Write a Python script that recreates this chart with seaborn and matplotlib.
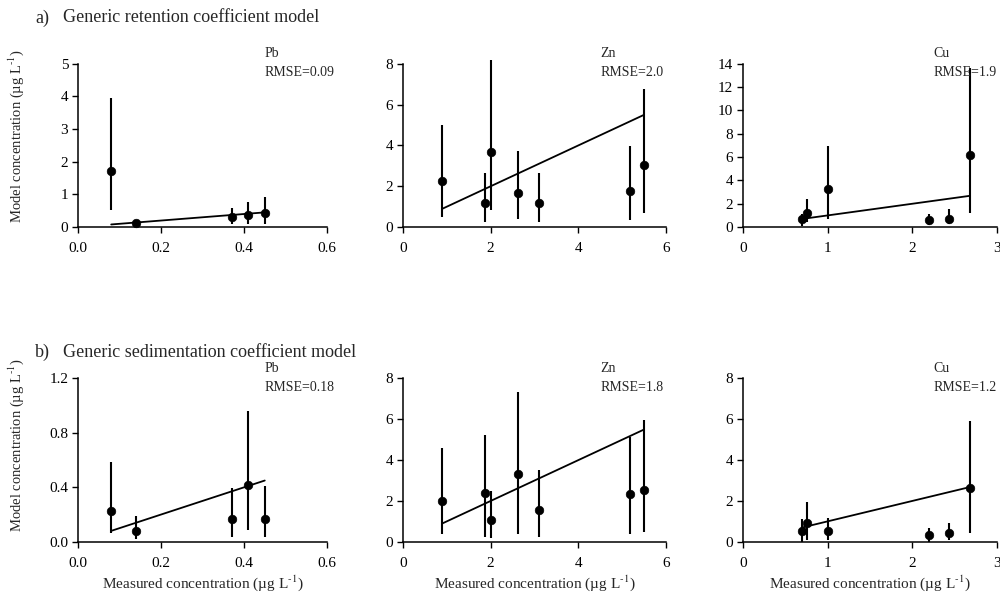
import matplotlib
matplotlib.use("Agg")
import matplotlib.pyplot as plt
import seaborn as sns
import pandas as pd

# Measured concentrations (ug/L) per metal
pb_measured = [0.08, 0.14, 0.37, 0.41, 0.45]
zn_measured = [0.9, 1.86, 2.0, 2.62, 3.1, 5.19, 5.5]
cu_measured = [0.7, 0.76, 1.0, 2.2, 2.43, 2.68]

# a) generic retention coefficient model: modelled value, lower and upper range
pb_ret = [1.73, 0.14, 0.32, 0.37, 0.43]
pb_ret_lo = [0.52, 0.05, 0.08, 0.10, 0.10]
pb_ret_hi = [3.95, 0.22, 0.58, 0.76, 0.91]

zn_ret = [2.24, 1.2, 3.7, 1.66, 1.2, 1.78, 3.06]
zn_ret_lo = [0.49, 0.25, 0.82, 0.38, 0.25, 0.35, 0.69]
zn_ret_hi = [4.99, 2.65, 8.2, 3.75, 2.65, 3.95, 6.77]

cu_ret = [0.7, 1.2, 3.29, 0.61, 0.73, 6.2]
cu_ret_lo = [0.1, 0.43, 0.67, 0.2, 0.23, 1.19]
cu_ret_hi = [1.1, 2.37, 6.98, 1.1, 1.54, 13.6]

# b) generic sedimentation coefficient model
pb_sed = [0.223, 0.082, 0.166, 0.416, 0.166]
pb_sed_lo = [0.062, 0.017, 0.037, 0.087, 0.037]
pb_sed_hi = [0.587, 0.186, 0.396, 0.96, 0.408]

zn_sed = [1.98, 2.39, 1.06, 3.33, 1.58, 2.34, 2.55]
zn_sed_lo = [0.36, 0.24, 0.16, 0.36, 0.24, 0.36, 0.49]
zn_sed_hi = [4.58, 5.24, 2.5, 7.32, 3.5, 5.15, 5.97]

cu_sed = [0.52, 0.93, 0.52, 0.31, 0.41, 2.63]
cu_sed_lo = [0.0, 0.08, 0.08, 0.0, 0.08, 0.41]
cu_sed_hi = [1.12, 1.95, 1.17, 0.68, 0.93, 5.93]

rmse_ret = {"Pb": "0.09", "Zn": "2.0", "Cu": "1.9"}
rmse_sed = {"Pb": "0.18", "Zn": "1.8", "Cu": "1.2"}

# axis ticks per panel
x_ticks = {"Pb": [0.0, 0.2, 0.4, 0.6], "Zn": [0, 2, 4, 6], "Cu": [0, 1, 2, 3]}
x_labels = {"Pb": ["0.0", "0.2", "0.4", "0.6"], "Zn": ["0", "2", "4", "6"],
            "Cu": ["0", "1", "2", "3"]}
y_ticks_ret = {"Pb": [0, 1, 2, 3, 4, 5], "Zn": [0, 2, 4, 6, 8],
               "Cu": [0, 2, 4, 6, 8, 10, 12, 14]}
y_ticks_sed = {"Pb": [0.0, 0.4, 0.8, 1.2], "Zn": [0, 2, 4, 6, 8],
               "Cu": [0, 2, 4, 6, 8]}
y_labels_sed = {"Pb": ["0.0", "0.4", "0.8", "1.2"]}

sns.set_style("ticks")
plt.rcParams["font.family"] = ["Liberation Serif", "DejaVu Serif"]
plt.rcParams["mathtext.fontset"] = "stix"

YLABEL = "Model concentration (µg L$^{\\text{-1}}$)"
XLABEL = "Measured concentration (µg L$^{\\text{-1}}$)"


def draw_panel(ax, metal, measured, model, lo, hi, rmse, yticks, ylabels=None):
    df = pd.DataFrame({"measured": measured, "model": model})
    # 1:1 line over the measured range
    one = pd.DataFrame({"x": [min(measured), max(measured)],
                        "y": [min(measured), max(measured)]})
    sns.lineplot(data=one, x="x", y="y", ax=ax, color="black", lw=1.3)
    ax.vlines(measured, lo, hi, color="black", lw=1.5, clip_on=False)
    sns.scatterplot(data=df, x="measured", y="model", ax=ax, color="black",
                    s=38, edgecolor="black", zorder=5, clip_on=False)
    ax.set_xlim(x_ticks[metal][0], x_ticks[metal][-1])
    ax.set_ylim(yticks[0], yticks[-1])
    ax.set_xticks(x_ticks[metal])
    ax.set_xticklabels(x_labels[metal])
    ax.set_yticks(yticks)
    if ylabels:
        ax.set_yticklabels(ylabels)
    ax.tick_params(axis="x", direction="out", length=4, width=1, pad=7,
                   labelsize=11, colors="black")
    ax.tick_params(axis="y", direction="out", length=4, width=1, pad=3,
                   labelsize=11, colors="black")
    sns.despine(ax=ax)
    for sp in ("left", "bottom"):
        ax.spines[sp].set_color("black")
        ax.spines[sp].set_linewidth(1.1)
    ax.set_xlabel("")
    ax.set_ylabel("")
    ax.text(0.75, 1.06, metal, transform=ax.transAxes, fontsize=10,
            va="center", ha="left")
    ax.text(0.75, 0.945, "RMSE=" + rmse, transform=ax.transAxes, fontsize=10,
            va="center", ha="left")


fig = plt.figure(figsize=(10, 5.96), dpi=100)
lefts = [0.078, 0.403, 0.743]
widths = [0.249, 0.263, 0.254]
metals = ["Pb", "Zn", "Cu"]
meas = {"Pb": pb_measured, "Zn": zn_measured, "Cu": cu_measured}
ret = {"Pb": (pb_ret, pb_ret_lo, pb_ret_hi), "Zn": (zn_ret, zn_ret_lo, zn_ret_hi),
       "Cu": (cu_ret, cu_ret_lo, cu_ret_hi)}
sed = {"Pb": (pb_sed, pb_sed_lo, pb_sed_hi), "Zn": (zn_sed, zn_sed_lo, zn_sed_hi),
       "Cu": (cu_sed, cu_sed_lo, cu_sed_hi)}

for i, m in enumerate(metals):
    ax = fig.add_axes([lefts[i], 0.619, widths[i], 0.274])
    draw_panel(ax, m, meas[m], *ret[m], rmse_ret[m], y_ticks_ret[m])

    ax = fig.add_axes([lefts[i], 0.091, widths[i], 0.274])
    draw_panel(ax, m, meas[m], *sed[m], rmse_sed[m], y_ticks_sed[m],
               y_labels_sed.get(m))
    ax.set_xlabel(XLABEL, fontsize=11, labelpad=2.5)

# y labels
fig.text(0.016, 0.771, YLABEL, fontsize=10.5, rotation=90, va="center", ha="center")
fig.text(0.016, 0.254, YLABEL, fontsize=10.5, rotation=90, va="center", ha="center")

fig.text(0.035, 0.970, "a)", fontsize=13, va="center")
fig.text(0.063, 0.970, "Generic retention coefficient model", fontsize=13,
         va="center")
fig.text(0.035, 0.408, "b)", fontsize=13, va="center")
fig.text(0.063, 0.408, "Generic sedimentation coefficient model", fontsize=13,
         va="center")

fig.savefig("out.png", dpi=100, facecolor="white")
